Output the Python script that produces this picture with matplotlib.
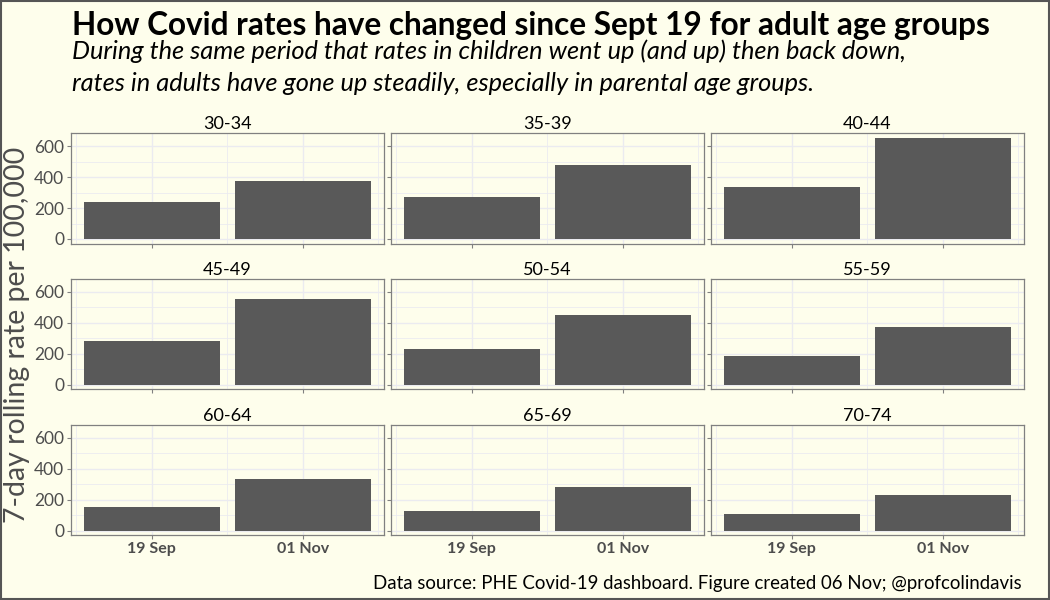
import numpy as np
import matplotlib.pyplot as plt
from matplotlib.patches import Rectangle

plt.rcParams['font.family'] = ['Lato', 'DejaVu Sans']

# data
age_groups = ['30-34', '35-39', '40-44',
              '45-49', '50-54', '55-59',
              '60-64', '65-69', '70-74']
dates = ['19 Sep', '01 Nov']
rate_sep = [236, 268, 338, 281, 230, 185, 153, 128, 108]
rate_nov = [377, 479, 651, 555, 453, 370, 332, 281, 230]

bg = '#fefeec'
bar_col = '#595959'
grid_col = '#ebebf0'
txt_col = '#4d4d4d'

fig, ax = plt.subplots(3, 3, figsize=(10.5, 6), dpi=100, sharex=True, sharey=True)
fig.patch.set_facecolor(bg)
fig.subplots_adjust(left=0.0676, right=0.975, top=0.778, bottom=0.108,
                    wspace=0.0224, hspace=0.32)

x = np.arange(len(dates))
for i, a in enumerate(ax.flat):
    a.set_facecolor(bg)
    a.bar(x, [rate_sep[i], rate_nov[i]], width=0.9, color=bar_col, zorder=3)
    a.set_title(age_groups[i], fontsize=13, color='black', pad=3)
    a.set_xlim(-0.536, 1.536)
    a.set_ylim(-30, 683)
    a.set_yticks([0, 200, 400, 600])
    a.set_yticks([100, 300, 500], minor=True)
    a.set_xticks(x)
    a.set_xticks([-0.5, 0.5, 1.5], minor=True)
    a.set_xticklabels(dates)
    a.grid(True, which='major', color=grid_col, lw=1.0, zorder=0)
    a.grid(True, which='minor', color=grid_col, lw=0.6, zorder=0)
    for s in a.spines.values():
        s.set_color('#808080')
        s.set_linewidth(0.9)
    a.tick_params(which='major', length=3, color='#808080', labelsize=12.5,
                  labelcolor=txt_col, pad=2)
    a.tick_params(axis='x', labelsize=11.5)
    a.tick_params(which='minor', length=0)
    for lab in a.get_xticklabels():
        lab.set_fontweight('bold')

fig.text(0.0686, 0.958, 'How Covid rates have changed since Sept 19 for adult age groups',
         fontsize=22.7, fontweight='bold', ha='left', va='center')
fig.text(0.0686, 0.914, 'During the same period that rates in children went up (and up) then back down,',
         fontsize=18.3, style='italic', ha='left', va='center')
fig.text(0.0686, 0.861, 'rates in adults have gone up steadily, especially in parental age groups.',
         fontsize=18.3, style='italic', ha='left', va='center')
fig.text(0.016, 0.442, '7-day rolling rate per 100,000', rotation=90, fontsize=20.5,
         color=txt_col, ha='center', va='center')
fig.text(0.973, 0.028, 'Data source: PHE Covid-19 dashboard. Figure created 06 Nov; @profcolindavis',
         fontsize=13.4, ha='right', va='center')

fig.patches.append(Rectangle((0.001, 0.002), 0.998, 0.996, transform=fig.transFigure,
                             fill=False, edgecolor='#555555', lw=1.5))

fig.savefig('out.png', dpi=100, facecolor=bg)
